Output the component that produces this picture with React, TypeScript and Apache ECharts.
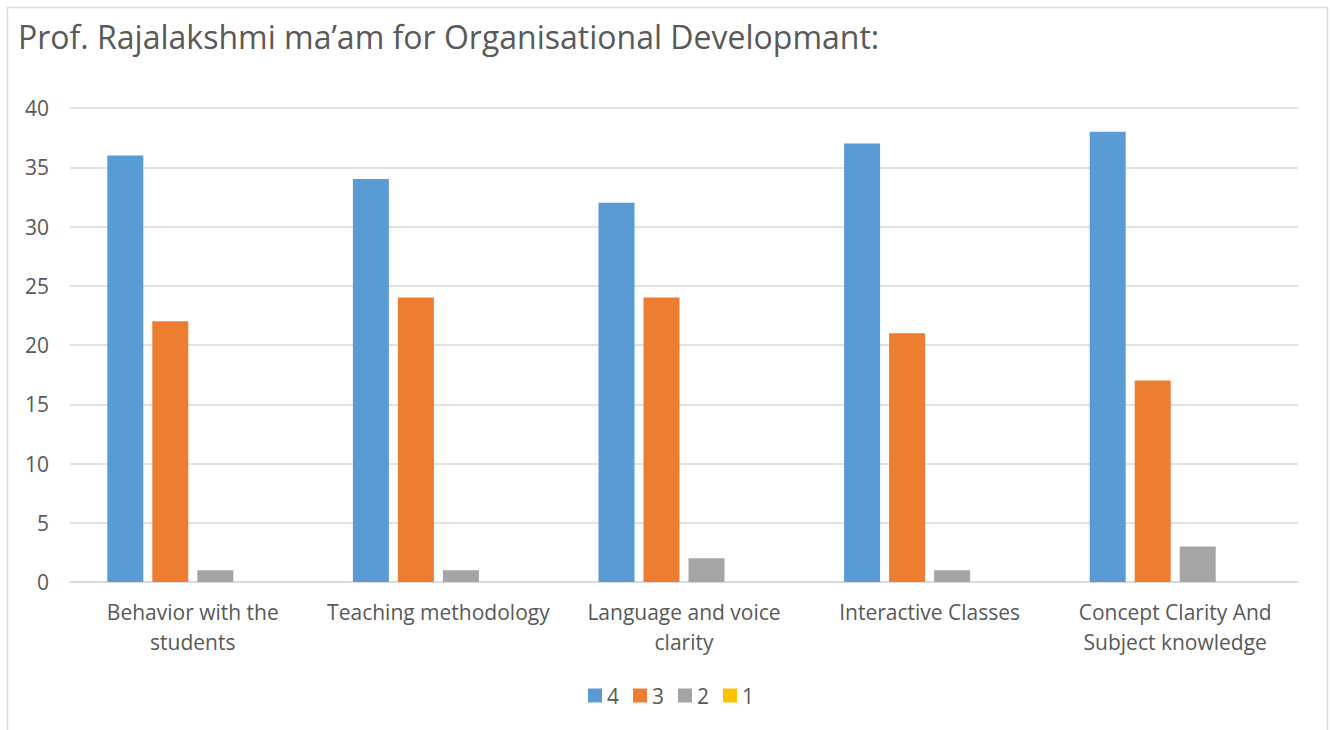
import React, { useEffect, useRef } from "react";
import * as echarts from "echarts";

const categories = [
  "Behavior with the\nstudents",
  "Teaching methodology",
  "Language and voice\nclarity",
  "Interactive Classes",
  "Concept Clarity And\nSubject knowledge",
];
const seriesNames = ["4", "3", "2", "1"];
const values4 = [36, 34, 32, 37, 38];
const values3 = [22, 24, 24, 21, 17];
const values2 = [1, 1, 2, 1, 3];
const values1 = [0, 0, 0, 0, 0];
const colors = ["#5B9BD5", "#ED7D31", "#A5A5A5", "#FFC000"];

export default function App() {
  const ref = useRef<HTMLDivElement>(null);
  useEffect(() => {
    if (!ref.current) return;
    const chart = echarts.init(ref.current, undefined, { renderer: "svg" });
    const font = "Open Sans, Lato, sans-serif";
    const data = [values4, values3, values2, values1];
    chart.setOption({
      animation: false,
      textStyle: { fontFamily: font },
      graphic: [
        {
          type: "rect",
          shape: { x: 7.5, y: 7.5, width: 1320, height: 740 },
          style: { fill: "none", stroke: "#D9D9D9", lineWidth: 1.5 },
          silent: true,
        },
      ],
      title: {
        text: "Prof. Rajalakshmi ma\u2019am for Organisational Developmant:",
        left: 13,
        top: 15,
        textStyle: { fontFamily: font, fontSize: 32, fontWeight: "normal", color: "#595959" },
      },
      legend: {
        bottom: 19,
        left: 583,
        itemWidth: 14,
        itemHeight: 14,
        itemGap: 14,
        icon: "rect",
        textStyle: { fontFamily: font, fontSize: 21, color: "#595959" },
        data: seriesNames,
      },
      grid: { left: 70, right: 34, top: 108, bottom: 148, containLabel: false },
      xAxis: {
        type: "category",
        data: categories,
        axisLine: { lineStyle: { color: "#D9D9D9", width: 1.5 } },
        axisTick: { show: false },
        axisLabel: {
          color: "#595959",
          fontSize: 21,
          fontFamily: font,
          lineHeight: 30,
          margin: 15,
          interval: 0,
        },
      },
      yAxis: {
        type: "value",
        min: 0,
        max: 40,
        interval: 5,
        axisLine: { show: false },
        axisTick: { show: false },
        splitLine: { lineStyle: { color: "#D9D9D9", width: 1.5 } },
        axisLabel: { color: "#595959", fontSize: 21, fontFamily: font, margin: 21 },
      },
      series: seriesNames.map((name, i) => ({
        name,
        type: "bar",
        data: data[i],
        barWidth: 36,
        barGap: "25%",
        itemStyle: { color: colors[i] },
      })),
    });
    return () => chart.dispose();
  }, []);
  return (
    <div
      ref={ref}
      style={{ position: "fixed", left: 0, top: 0, width: 1332, height: 730, background: "#fff" }}
    />
  );
}
